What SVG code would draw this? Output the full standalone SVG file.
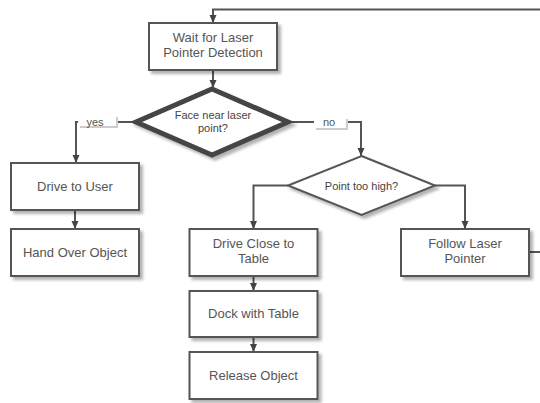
<svg xmlns="http://www.w3.org/2000/svg" width="540" height="403" viewBox="0 0 540 403">
<style>
.box{fill:#fff;stroke:#555;stroke-width:2;filter:url(#sh)}
.t{font-family:"Liberation Sans",Arial,sans-serif;font-size:13px;fill:#555;text-anchor:middle}
.dt{font-family:"Liberation Sans",Arial,sans-serif;font-size:11px;fill:#444;text-anchor:middle}
.lt{font-family:"Liberation Sans",Arial,sans-serif;font-size:11px;fill:#555;text-anchor:middle}
.ln{fill:none;stroke:#555;stroke-width:2;marker-end:url(#ah)}
.ln2{fill:none;stroke:#555;stroke-width:2}
.lbl{fill:#fff}
.lsh{fill:#ccc}
</style>
<defs>
<filter id="sh" x="-10%" y="-10%" width="130%" height="140%">
<feDropShadow dx="3" dy="3" stdDeviation="1.5" flood-color="#000" flood-opacity="0.3"/>
</filter>
<marker id="ah" viewBox="0 0 8 8" refX="8" refY="4" markerWidth="8" markerHeight="8" markerUnits="userSpaceOnUse" orient="auto">
<path d="M0,0.5 L8,4 L0,7.5 Z" fill="#444"/>
</marker>
</defs>
<rect width="540" height="403" fill="#fff"/>
<g id="connectors">
<path class="ln" d="M529,252 H548 V9.5 H213 V23"/>
<path class="ln" d="M213,70 V88"/>
<path class="ln2" d="M135,122 H76"/>
<path class="ln" d="M76,121 V163"/>
<path class="ln2" d="M289,122 H361"/>
<path class="ln" d="M361,121 V156"/>
<path class="ln" d="M75,210 V229"/>
<path class="ln" d="M288,185.5 H253.5 V229"/>
<path class="ln" d="M435,185.5 H465 V229"/>
<path class="ln" d="M253.5,276 V291"/>
<path class="ln" d="M253.5,337 V352"/>
<g id="label-yes">
<rect class="lsh" x="80" y="117" width="38" height="11"/>
<rect class="lbl" x="78" y="115" width="38" height="11"/>
<text class="lt" x="95" y="126">yes</text>
</g>
<g id="label-no">
<rect class="lsh" x="316" y="119" width="32" height="11"/>
<rect class="lbl" x="314" y="117" width="32" height="11"/>
<text class="lt" x="329" y="126">no</text>
</g>
</g>
<g id="wait">
<rect class="box" x="149" y="23" width="128" height="47"/>
<text class="t" x="213" y="42">Wait for Laser</text>
<text class="t" x="213" y="57">Pointer Detection</text>
</g>
<g id="face">
<polygon points="212,89 288,122 212,155 136,122" fill="#fff" stroke="#444" stroke-width="5" stroke-linejoin="miter" filter="url(#sh)"/>
<text class="dt" x="213" y="119">Face near laser</text>
<text class="dt" x="213" y="132">point?</text>
</g>
<g id="high">
<polygon points="361.5,156 435,185.5 361.5,215 288,185.5" fill="#fff" stroke="#555" stroke-width="2" filter="url(#sh)"/>
<text class="dt" x="361.5" y="189.5">Point too high?</text>
</g>
<g id="user">
<rect class="box" x="11" y="163" width="128" height="47"/>
<text class="t" x="75" y="190.5">Drive to User</text>
</g>
<g id="hand">
<rect class="box" x="11" y="229" width="128" height="47"/>
<text class="t" x="75" y="257">Hand Over Object</text>
</g>
<g id="close">
<rect class="box" x="189.5" y="229" width="128" height="47"/>
<text class="t" x="253.5" y="248">Drive Close to</text>
<text class="t" x="253.5" y="263">Table</text>
</g>
<g id="dock">
<rect class="box" x="189.5" y="291" width="128" height="46"/>
<text class="t" x="253.5" y="318">Dock with Table</text>
</g>
<g id="release">
<rect class="box" x="189.5" y="352" width="128" height="47"/>
<text class="t" x="253.5" y="380">Release Object</text>
</g>
<g id="follow">
<rect class="box" x="401" y="229" width="128" height="47"/>
<text class="t" x="465" y="248">Follow Laser</text>
<text class="t" x="465" y="263">Pointer</text>
</g>
</svg>
